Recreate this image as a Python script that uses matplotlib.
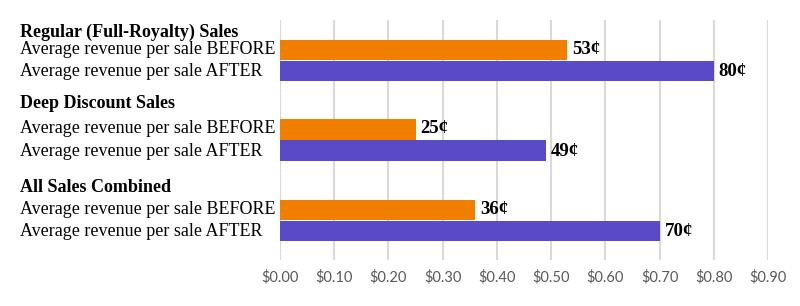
import matplotlib
matplotlib.use("Agg")
import matplotlib.pyplot as plt
from matplotlib import transforms

groups = ["Regular (Full-Royalty) Sales", "Deep Discount Sales", "All Sales Combined"]
series = ["Average revenue per sale BEFORE", "Average revenue per sale AFTER"]
before = [0.53, 0.25, 0.36]
after = [0.80, 0.49, 0.70]
xticks = [0.0, 0.1, 0.2, 0.3, 0.4, 0.5, 0.6, 0.7, 0.8, 0.9]
xtick_labels = ["$0.00", "$0.10", "$0.20", "$0.30", "$0.40", "$0.50",
                "$0.60", "$0.70", "$0.80", "$0.90"]

ORANGE = "#F07F00"
PURPLE = "#5B4AC8"

W, H = 800, 306
fig = plt.figure(figsize=(W / 100, H / 100), dpi=100)
ax = fig.add_axes([280 / W, 1 - 260 / H, (768 - 280) / W, 240 / H])

# layout (pixel-like units from the top of the plot area)
first_center = 30.0
group_step = 80.0
bar_h = 20.5
pair_gap = 21.0
header_offsets = [-18, -25.5, -23]

serif = ["Liberation Serif", "DejaVu Serif"]
trans = transforms.blended_transform_factory(fig.transFigure, ax.transData)

for g, name in enumerate(groups):
    yb = first_center + g * group_step - (0.5 if g == 1 else 0.0)
    ya = yb + pair_gap
    ax.barh(yb, before[g], height=bar_h, color=ORANGE, zorder=3)
    ax.barh(ya, after[g], height=bar_h, color=PURPLE, zorder=3)
    ax.text(before[g] + 0.009, yb - 1, f"{round(before[g] * 100)}¢", va="center", ha="left",
            family=serif, fontsize=13.5, fontweight="bold", color="black")
    ax.text(after[g] + 0.009, ya + 1, f"{round(after[g] * 100)}¢", va="center", ha="left",
            family=serif, fontsize=13.5, fontweight="bold", color="black")
    ax.text(20 / W, yb + header_offsets[g], name, transform=trans, va="center", ha="left",
            family=serif, fontsize=13, fontweight="bold", color="black")
    ax.text(20 / W, yb - 1, series[0], transform=trans, va="center", ha="left",
            family=serif, fontsize=13, color="black")
    ax.text(20 / W, ya + 1, series[1], transform=trans, va="center", ha="left",
            family=serif, fontsize=13, color="black")

ax.set_ylim(240, 0)
ax.set_xlim(0, 0.9)
ax.set_yticks([])
ax.set_xticks(xticks)
ax.set_xticklabels(xtick_labels, family=["Lato", "DejaVu Sans"], fontsize=10.5, color="#595959")
ax.tick_params(axis="x", length=0, pad=7)
ax.grid(axis="x", color="#D9D9D9", linewidth=1.5, zorder=0)
for s in ax.spines.values():
    s.set_visible(False)

fig.savefig("out.png", dpi=100)
